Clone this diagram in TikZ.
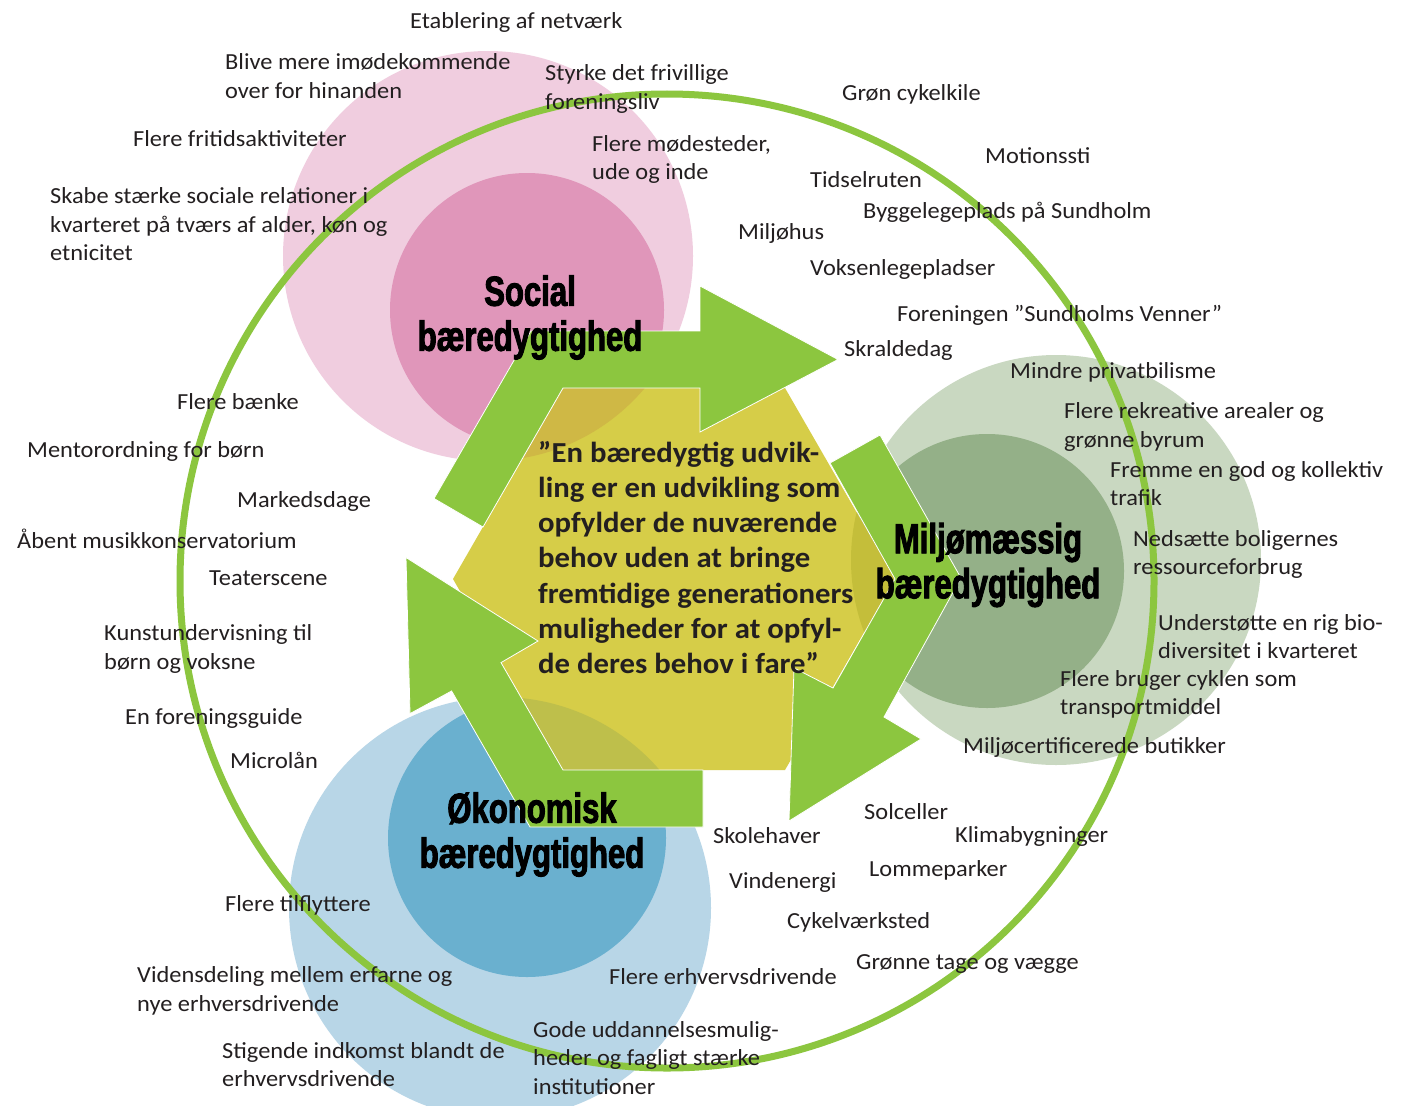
\documentclass[tikz,border=0pt]{standalone}
\usepackage{fontspec}
\setmainfont{Carlito}[FakeStretch=1.06]
\newfontfamily\impactfam[FakeStretch=0.74,FakeBold=2.2]{Liberation Sans}
\definecolor{pinkO}{HTML}{F0CDDF}
\definecolor{pinkI}{HTML}{E096BA}
\definecolor{blueO}{HTML}{B8D6E7}
\definecolor{blueI}{HTML}{6AB0CF}
\definecolor{sageO}{HTML}{C9D8C1}
\definecolor{sageI}{HTML}{94B088}
\definecolor{leaf}{HTML}{8CC63F}
\definecolor{hexyellow}{HTML}{D6CD48}
\definecolor{tintpink}{HTML}{CFB845}
\definecolor{tintsage}{HTML}{C4BE3A}
\definecolor{tintblue}{HTML}{BEBF4B}
\definecolor{txt}{HTML}{231F20}
\newcommand\myitemfont{\fontsize{23}{28.5}\selectfont}
\newcommand\mytitlefont{\impactfam\bfseries\fontsize{42}{45}\selectfont}
\newcommand\myquotefont{\bfseries\fontsize{29}{35.2}\selectfont}
\begin{document}
\begin{tikzpicture}[x=1pt,y=-1pt,
  item/.style={anchor=west, align=left, inner sep=0pt, yshift=-2pt, font=\myitemfont, text=txt},
  bigtitle/.style={align=center, inner sep=0pt, font=\mytitlefont, text=black},
  disc/.style={circle, inner sep=0pt, minimum size=#1},
  arrowshape/.style={fill=leaf, draw=white, line width=0.8pt, line join=miter},
]
\useasboundingbox (0,0) rectangle (1404,1105);
\fill[white] (0,0) rectangle (1404,1105);

% circles
\node[disc=410pt, fill=pinkO] (socO) at (488,256) {};
\node[disc=274pt, fill=pinkI] (socI) at (527,310) {};
\node[disc=410pt, fill=sageO] (milO) at (1056,560) {};
\node[disc=274pt, fill=sageI] (milI) at (987,571) {};
\node[disc=422pt, fill=blueO] (okoO) at (500,908) {};
\node[disc=278pt, fill=blueI] (okoI) at (527,838) {};

% hexagon
\coordinate (H1) at (563,388);
\coordinate (H2) at (785,388);
\coordinate (H3) at (895,579);
\coordinate (H4) at (785,770);
\coordinate (H5) at (563,770);
\coordinate (H6) at (453,579);
\fill[hexyellow] (H1) -- (H2) -- (H3) -- (H4) -- (H5) -- (H6) -- cycle;
\begin{scope}
  \clip (H1) -- (H2) -- (H3) -- (H4) -- (H5) -- (H6) -- cycle;
  \fill[tintpink] (socO.center) circle[radius=205];
  \fill[tintsage] (milO.center) circle[radius=205];
  \fill[tintblue] (okoO.center) circle[radius=211];
\end{scope}

% arrows
\fill[arrowshape] (434,498.5) -- (531,331) -- (700,331) -- (700,286) -- (838,359.5)
  -- (700,432) -- (700,388) -- (H1) -- (483,527) -- cycle;
\draw[arrowshape] (880,435) -- (961,578) -- (884,717) -- (921,739) -- (789,821)
  -- (794,668) -- (833,688) -- (H3) -- (830,463) -- cycle;
\draw[arrowshape] (530,827) -- (703,827) -- (703,770) -- (H5) -- (501,662.6)
  -- (538,641) -- (406,557.5) -- (410,713.6) -- (451.6,691) -- cycle;

% big ring
\node[circle, inner sep=0pt, minimum size=974pt, draw=leaf, line width=7pt] (ring) at (667,581) {};

% titles
\node[bigtitle] (tsoc) at (530,317.5) {Social\\bæredygtighed};
\node[bigtitle] (tmil) at (988,565) {Miljømæssig\\bæredygtighed};
\node[bigtitle] (toko) at (532,834.5) {Økonomisk\\bæredygtighed};

% quote
\node[anchor=west, align=left, inner sep=0pt, font=\myquotefont, text=txt] (quote) at (538,557.5)
 {”En bæredygtig udvik-\\ling er en udvikling som\\opfylder de nuværende\\behov uden at bringe\\fremtidige generationers\\muligheder for at opfyl-\\de deres behov i fare”};

% items
\node[item] (t1) at (410,20) {Etablering af netværk};
\node[item] (t2) at (225,74) {Blive mere imødekommende\\over for hinanden};
\node[item] (t3) at (545,87) {Styrke det frivillige\\foreningsliv};
\node[item] (t4) at (842,92) {Grøn cykelkile};
\node[item] (t5) at (133,137) {Flere fritidsaktiviteter};
\node[item] (t6) at (592,157.5) {Flere mødesteder,\\ude og inde};
\node[item] (t7) at (985,154) {Motionssti};
\node[item] (t8) at (810,178) {Tidselruten};
\node[item] (t9) at (50,222.5) {Skabe stærke sociale relationer i\\kvarteret på tværs af alder, køn og\\etnicitet};
\node[item] (t10) at (863,210) {Byggelegeplads på Sundholm};
\node[item] (t11) at (738,231) {Miljøhus};
\node[item] (t12) at (810,267) {Voksenlegepladser};
\node[item] (t13) at (897,313) {Foreningen ”Sundholms Venner”};
\node[item] (t14) at (844,348) {Skraldedag};
\node[item] (t15) at (1010,370) {Mindre privatbilisme};
\node[item] (t16) at (177,400) {Flere bænke};
\node[item] (t17) at (1064,425) {Flere rekreative arealer og\\grønne byrum};
\node[item] (t18) at (27,449) {Mentorordning for børn};
\node[item] (t19) at (1110,481.5) {Fremme en god og kollektiv\\trafik};
\node[item] (t20) at (237,499) {Markedsdage};
\node[item] (t21) at (17,537) {Åbent musikkonservatorium};
\node[item] (t22) at (1133,552.5) {Nedsætte boligernes\\ressourceforbrug};
\node[item] (t23) at (209,576) {Teaterscene};
\node[item] (t24) at (1158,634.5) {Understøtte en rig bio-\\diversitet i kvarteret};
\node[item] (t25) at (104,647) {Kunstundervisning til\\børn og voksne};
\node[item] (t26) at (1060,692.5) {Flere bruger cyklen som\\transportmiddel};
\node[item] (t27) at (125,716) {En foreningsguide};
\node[item] (t28) at (963,745) {Miljøcertificerede butikker};
\node[item] (t29) at (230,758) {Microlån};
\node[item] (t30) at (864,810) {Solceller};
\node[item] (t31) at (713,834) {Skolehaver};
\node[item] (t32) at (955,834) {Klimabygninger};
\node[item] (t33) at (869,868) {Lommeparker};
\node[item] (t34) at (729,880) {Vindenergi};
\node[item] (t35) at (225,903) {Flere tilflyttere};
\node[item] (t36) at (787,920) {Cykelværksted};
\node[item] (t37) at (856,962) {Grønne tage og vægge};
\node[item] (t38) at (137,989) {Vidensdeling mellem erfarne og\\nye erhversdrivende};
\node[item] (t39) at (609,975) {Flere erhvervsdrivende};
\node[item] (t40) at (533,1056) {Gode uddannelsesmulig-\\heder og fagligt stærke\\institutioner};
\node[item] (t41) at (222,1062.5) {Stigende indkomst blandt de\\erhvervsdrivende};
\end{tikzpicture}
\end{document}
